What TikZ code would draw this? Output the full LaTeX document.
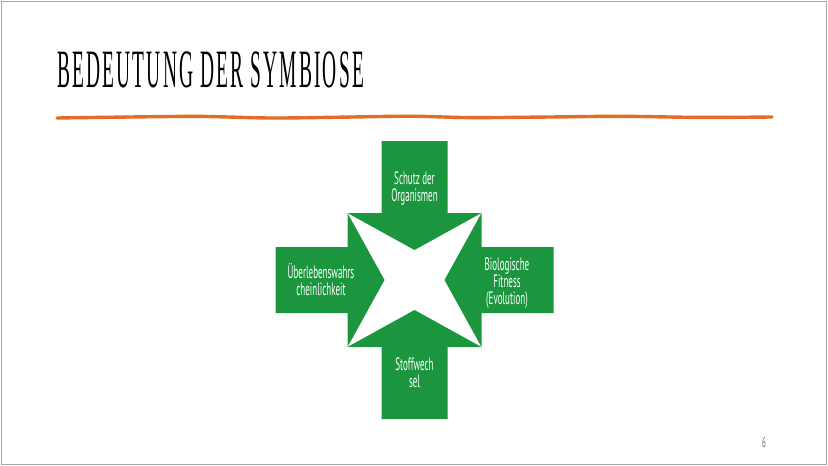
\documentclass[tikz,border=0pt]{standalone}
\usepackage{fontspec}
\newfontfamily\titlefont[FakeStretch=0.36,LetterSpace=4]{Liberation Serif}
\newfontfamily\labelfont[FakeStretch=0.5]{PT Sans}
\usetikzlibrary{
  positioning,
  calc,
}
\definecolor{symgreen}{RGB}{27,150,62}
\definecolor{rulecol}{RGB}{228,108,36}
\tikzset{
  x=1pt,
  y=-1pt,
  frame/.style={
    draw=black!35,
    line width=0.8pt,
  },
  rule/.style={
    draw=rulecol,
    line width=3.4pt,
    line cap=round,
  },
  inarrow/.style={
    fill=symgreen,
    draw=none,
  },
  lbl/.style={
    text=white,
    align=center,
    inner sep=0pt,
    font=\labelfont\fontsize{18}{17}\selectfont,
  },
}

\begin{document}
\begin{tikzpicture}
  \useasboundingbox (0,0) rectangle (828,466);
  \draw[frame] (1,1) rectangle (826,464);

  % title and hand drawn rule
  \node[anchor=base west, inner sep=0pt,
    font=\titlefont\fontsize{54}{54}\selectfont] (title) at (57,87)
    {BEDEUTUNG DER SYMBIOSE};
  \draw[rule] plot[smooth] coordinates {(57,118) (130,117) (200,116.4)
    (270,118) (340,117.2) (410,116.2) (470,117.6) (550,117) (620,116.3)
    (700,117.4) (772,117)};

  % four arrows pointing inwards
  \coordinate (cen) at (414.5,280);
  \foreach \ang in {0,90,180,270} {
    \begin{scope}[shift={(cen)}, rotate=\ang]
      \fill[inarrow] (-33,-139) -- (33,-139) -- (33,-67) -- (67,-67)
        -- (0,-30) -- (-67,-67) -- (-33,-67) -- cycle;
    \end{scope}
  }

  \node[lbl] (top)    at (414.5,188) {Schutz der\\Organismen};
  \node[lbl] (left)   at (321,280)   {Überlebenswahrs\\cheinlichkeit};
  \node[lbl] (right)  at (507,283)   {Biologische\\Fitness\\(Evolution)};
  \node[lbl] (bottom) at (414.5,373) {Stoffwech\\sel};

  \node[text=black!60, inner sep=0pt,
    font=\labelfont\fontsize{14}{14}\selectfont] (page) at (764,443) {6};
\end{tikzpicture}
\end{document}
